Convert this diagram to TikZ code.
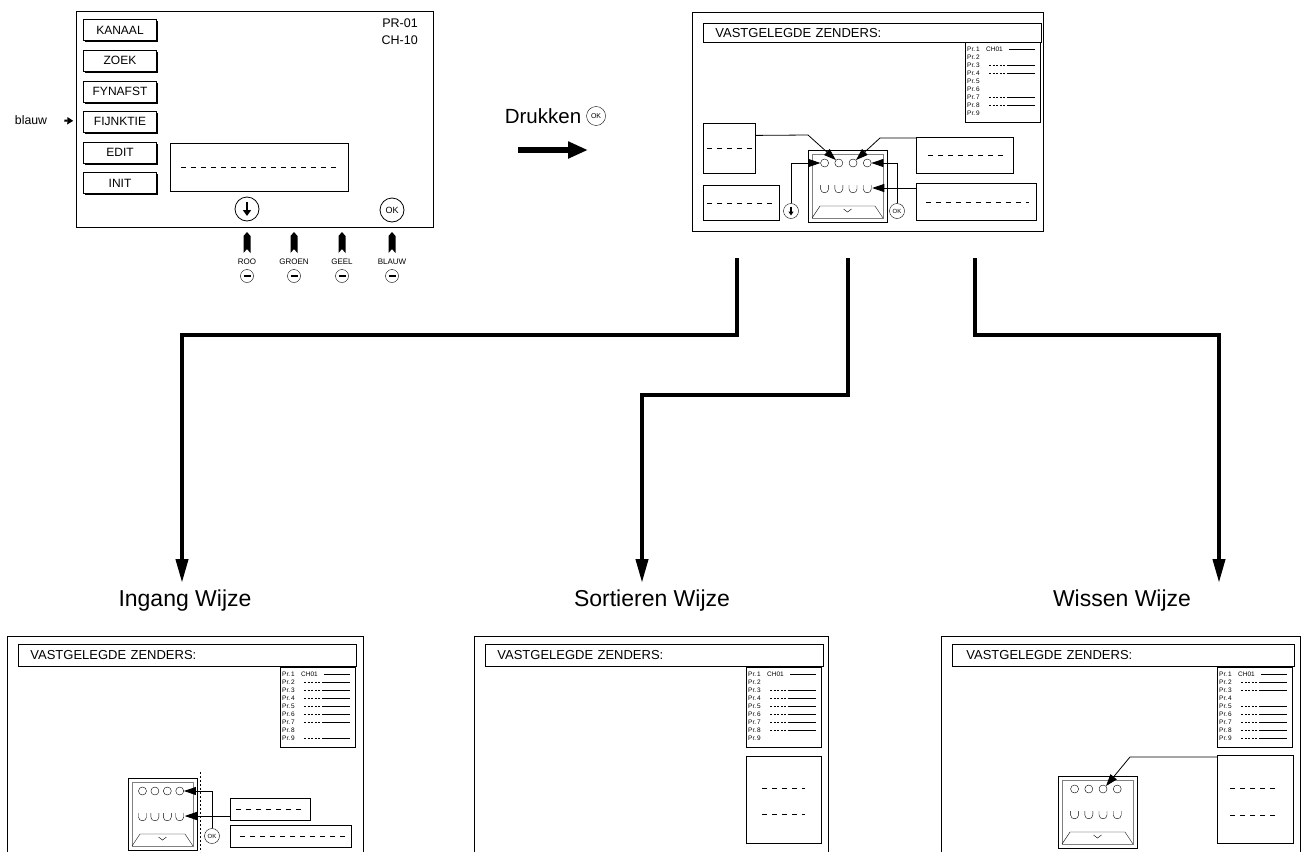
\documentclass[tikz,border=0pt]{standalone}
\usepackage{fontspec}
\setmainfont{Liberation Sans}
\usetikzlibrary{positioning,arrows.meta,shadows}

% list of stored stations: corner x, corner y, name prefix, kind of each line
\newcommand{\zenderlijst}[4]{%
  \begin{scope}[shift={(#1,#2)}]
    \draw (0,0) rectangle (75,80);
    \foreach \soort [count=\i] in {#4} {
      \node[lijsttekst] (#3\i) at (2,\i*8-1) {Pr.\,\i};
      \ifnum\soort=1
        \draw[dash pattern=on 2pt off 1.5pt] (24,\i*8-1) -- (44,\i*8-1);
        \draw (44,\i*8-1) -- (70,\i*8-1);
      \fi
      \ifnum\soort=2
        \node[lijsttekst] (#3ch) at (21,\i*8-1) {CH01};
        \draw (44,\i*8-1) -- (70,\i*8-1);
      \fi
    }
  \end{scope}}

% remote control picture: corner x, corner y, width, name prefix
\newcommand{\bediening}[4]{%
  \begin{scope}[shift={(#1,#2)}]
    \draw[thick] (0,0) rectangle (#3,72);
    \draw[very thin,gray] (4,4) rectangle (#3-4,68);
    \foreach \k in {0,...,3} {
      \node[gaatje] (#4c\k) at ({#3*(0.21+0.18*\k)},13) {};
      \draw[thin] ({#3*(0.21+0.18*\k)-4},35) -- ++(0,4)
        .. controls +(0,5) and +(0,5) .. ++(8,0) -- ++(0,-4);
      \coordinate (#4u\k) at ({#3*(0.21+0.18*\k)+5},38);
    }
    \draw[thin] (4,68) -- (12,56) -- (#3-12,56) -- (#3-4,68);
    \draw[thin] (#3/2-4,59) -- (#3/2,62) -- (#3/2+4,59);
  \end{scope}}

\begin{document}
\begin{tikzpicture}[x=1pt,y=-1pt,
knop/.style={draw,fill=white,minimum width=73pt,minimum height=21pt,inner sep=0pt,
font=\fontsize{12}{12}\selectfont,
drop shadow={opacity=1,fill=black,shadow xshift=1.8pt,shadow yshift=-1.8pt}},
rond/.style={circle,draw,thick,inner sep=0pt,minimum size=24pt,font=\fontsize{9}{9}\selectfont},
rondje/.style={circle,draw,inner sep=0pt,minimum size=15pt,font=\fontsize{6}{6}\selectfont},
omlaag/.style={rond,path picture={\draw[line width=1.6pt,-{Triangle[length=6pt,width=8pt]}]
([yshift=7pt]path picture bounding box.center) -- ([yshift=-7pt]path picture bounding box.center);}},
omlaagje/.style={rondje,path picture={\draw[line width=1.1pt,-{Triangle[length=4pt,width=5pt]}]
([yshift=4.5pt]path picture bounding box.center) -- ([yshift=-4.5pt]path picture bounding box.center);}},
minknop/.style={circle,draw,inner sep=0pt,minimum size=13pt,path picture={\draw[line width=1.8pt]
([xshift=-3.5pt]path picture bounding box.center) -- ([xshift=3.5pt]path picture bounding box.center);}},
gaatje/.style={circle,draw,thin,inner sep=0pt,minimum size=8pt},
vak/.style={draw,thick,inner sep=0pt,anchor=north west},
titelbalk/.style={draw,thick,anchor=north west,minimum width=338pt,minimum height=22pt,
inner xsep=12pt,text width=314pt,align=left,font=\fontsize{13}{13}\selectfont},
lijsttekst/.style={anchor=west,inner sep=0pt,font=\fontsize{6.5}{6.5}\selectfont},
streep/.style={thick,dash pattern=on 5pt off 5pt},
klein/.style={inner sep=0pt,font=\fontsize{8}{8}\selectfont},
modus/.style={font=\fontsize{23}{23}\selectfont},
wijzer/.style={line width=0.8pt,-{Triangle[length=12pt,width=8pt]}},
stroom/.style={line width=4pt,-{Triangle[length=24pt,width=12pt]}}]
\path[use as bounding box,fill=white] (0,0) rectangle (1307,852);

% menu screen
\draw[thick] (76,11) rectangle (433,227);
\node[knop] (kanaal) at (120,30) {KANAAL};
\node[knop] (zoek) [below=9.2pt of kanaal] {ZOEK};
\node[knop] (fynafst) [below=9.2pt of zoek] {FYNAFST};
\node[knop] (fijnktie) [below=9.2pt of fynafst] {FIJNKTIE};
\node[knop] (edit) [below=9.2pt of fijnktie] {EDIT};
\node[knop] (init) [below=9.2pt of edit] {INIT};
\node[align=right,anchor=north east,inner sep=0pt,font=\fontsize{12.5}{17}\selectfont] (kanaalnr) at (418,19) {PR-01\\CH-10};
\node[vak,minimum width=178pt,minimum height=48pt] (scherm) at (170,143) {};
\draw[streep] ([xshift=11pt]scherm.west) -- ([xshift=-12pt]scherm.east);
\node[omlaag] (omlaag1) at (247,209) {};
\node[rond] (ok1) at (392,210) {OK};
\node[font=\fontsize{12.3}{12}\selectfont,inner sep=0pt] (blauw) at (31,120) {blauw};
\draw[line width=2pt,-{Triangle[length=6pt,width=7pt]},shorten <=17pt,shorten >=10pt] (blauw) -- (fijnktie);
\foreach \x/\kleur [count=\i] in {247/ROO,294/GROEN,342/GEEL,392/BLAUW} {
  \fill (\x-3.5,253) -- (\x-3.5,236) -- (\x,232) -- (\x+3.5,236) -- (\x+3.5,253) -- (\x,249) -- cycle;
  \node[klein] (kleur\i) at (\x,262) {\kleur};
  \node[minknop] (min\i) at (\x,276) {};
}

% press OK
\node[font=\fontsize{20.5}{20}\selectfont,inner sep=0pt] (druk) at (543,116) {Drukken};
\node[rondje,minimum size=19pt,font=\fontsize{7}{7}\selectfont] (okdruk) [right=5pt of druk] {OK};
\coordinate (pijlbegin) at (518,150);
\coordinate (pijleinde) at (588,150);
\draw[line width=5.5pt,-{Triangle[length=20pt,width=16pt]}] (pijlbegin) -- (pijleinde);

% stored stations screen
\draw[thick] (692,12) rectangle (1043,231);
\node[titelbalk,minimum height=19pt] (titel0) at (703,23) {VASTGELEGDE ZENDERS:};
\zenderlijst{965}{42}{rt}{2,0,1,1,0,0,1,1,0}
\node[vak,minimum width=52pt,minimum height=50pt] (links1) at (703,123) {};
\node[vak,minimum width=76pt,minimum height=35pt] (links2) at (703,185) {};
\node[vak,minimum width=97pt,minimum height=36pt] (rechts1) at (916,137) {};
\node[vak,minimum width=120pt,minimum height=37pt] (rechts2) at (916,183) {};
\draw[streep] ([xshift=4pt]links1.west) -- ([xshift=-3pt]links1.east);
\draw[streep] ([xshift=4pt]links2.west) -- ([xshift=-4pt]links2.east);
\draw[streep] ([xshift=12pt]rechts1.west) -- ([xshift=-10pt]rechts1.east);
\draw[streep] ([xshift=10pt]rechts2.west) -- ([xshift=-8pt]rechts2.east);
\bediening{808}{150}{79}{rt}
\node[omlaagje] (omlaag2) at (791,211) {};
\node[rondje] (ok2) at (897,211) {OK};
\draw[wijzer] ([yshift=13pt]links1.east) -- (808,135) -- (rtc1.north west);
\draw[wijzer] ([yshift=-1pt]rechts1.north west) -- (880,138) -- (rtc2.north east);
\draw[wijzer] (omlaag2.north) -- (omlaag2.north |- rtc0) -- (rtc0.west);
\draw[wijzer] (ok2.north) -- (ok2.north |- rtc3) -- (rtc3.east);
\draw[wijzer] (rtu3 -| rechts2.west) -- (rtu3);

% the three modes
\node[modus] (ingang) at (185,601) {Ingang Wijze};
\node[modus] (sorteer) at (652,601) {Sortieren Wijze};
\node[modus] (wissen) at (1122,601) {Wissen Wijze};
\coordinate (uitL) at (737,258);
\coordinate (uitM) at (848,258);
\coordinate (uitR) at (975,258);
\coordinate (inL) at (182,583);
\coordinate (inM) at (642,583);
\coordinate (inR) at (1219,583);
\draw[stroom] (uitL) -- (737,335) -| (inL);
\draw[stroom] (uitM) -- (848,395) -| (inM);
\draw[stroom] (uitR) -- (975,335) -| (inR);

% input mode
\draw[thick] (7,852) -- (7,636) -- (363,636) -- (363,852);
\node[titelbalk,minimum width=337pt] (titel1) at (18,644) {VASTGELEGDE ZENDERS:};
\zenderlijst{280}{667}{ig}{2,1,1,1,1,1,1,0,1}
\bediening{128}{778}{69}{ig}
\draw[thin,dash pattern=on 2pt off 2pt] (200,772) -- (200,852);
\node[rondje] (ok3) at (212,836) {OK};
\node[vak,minimum width=80pt,minimum height=22pt] (ig1) at (230,798) {};
\node[vak,minimum width=121pt,minimum height=22pt] (ig2) at (230,825) {};
\draw[streep] ([xshift=6pt]ig1.west) -- ([xshift=-6pt]ig1.east);
\draw[streep] ([xshift=10pt]ig2.west) -- ([xshift=-6pt]ig2.east);
\draw[wijzer] (ok3.north) -- (ok3.north |- igc3) -- (igc3.east);
\draw[wijzer] (igu3 -| ig1.west) -- (igu3);

% sort mode
\draw[thick] (474,852) -- (474,636) -- (828,636) -- (828,852);
\node[titelbalk,minimum width=337pt] (titel2) at (485,644) {VASTGELEGDE ZENDERS:};
\zenderlijst{746}{667}{so}{2,0,1,1,1,1,1,1,0}
\node[vak,minimum width=75pt,minimum height=87pt] (so1) at (746,756) {};
\draw[streep] (762,788) -- (805,788);
\draw[streep] (762,814) -- (805,814);

% delete mode
\draw[thick] (941,852) -- (941,636) -- (1300,636) -- (1300,852);
\node[titelbalk,minimum width=342pt] (titel3) at (952,644) {VASTGELEGDE ZENDERS:};
\zenderlijst{1217}{667}{wi}{2,1,1,0,1,1,1,1,1}
\node[vak,minimum width=76pt,minimum height=88pt] (wi1) at (1217,755) {};
\draw[streep] (1230,788) -- (1278,788);
\draw[streep] (1230,815) -- (1278,815);
\bediening{1058}{776}{79}{wi}
\draw[wijzer] ([yshift=-2pt]wi1.north west) -- (1130,757) -- (wic2.north east);
\end{tikzpicture}
\end{document}
